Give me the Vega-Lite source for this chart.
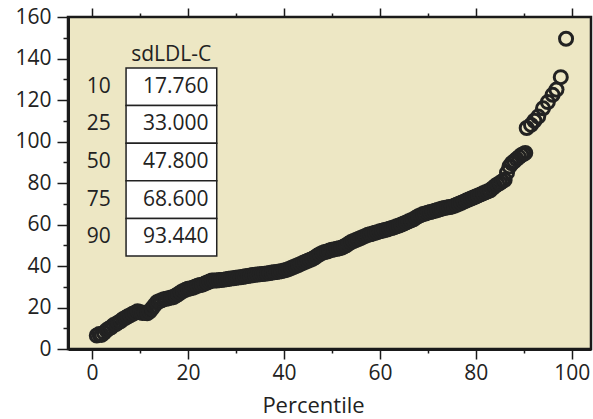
{
  "$schema": "https://vega.github.io/schema/vega-lite/v6.json",
  "width": 523,
  "height": 332,
  "autosize": "none",
  "padding": {"left": 68, "top": 17, "right": 2, "bottom": 70},
  "background": "white",
  "config": {
    "view": {"fill": "#EDE7C4", "stroke": "#1a1a1a", "strokeWidth": 2.5},
    "font": "Open Sans",
    "axis": {
      "domainColor": "#1a1a1a",
      "domainWidth": 3,
      "tickColor": "#1a1a1a",
      "tickWidth": 1.5,
      "grid": false,
      "labelFont": "Open Sans",
      "labelFontSize": 21,
      "labelColor": "#222",
      "titleFont": "Open Sans",
      "titleFontSize": 22,
      "titleFontWeight": "normal",
      "titleColor": "#222"
    }
  },
  "datasets": {
    "curve": [
      {"p": 1, "v": 6.5}, {"p": 1.5, "v": 7.2}, {"p": 2, "v": 6.8}, {"p": 2.5, "v": 7.8}, {"p": 3, "v": 9},
      {"p": 3.5, "v": 9.8}, {"p": 4, "v": 10.5}, {"p": 4.5, "v": 11.5}, {"p": 5, "v": 12}, {"p": 5.5, "v": 12.8},
      {"p": 6, "v": 13.5}, {"p": 6.5, "v": 14.5}, {"p": 7, "v": 15}, {"p": 7.5, "v": 15.8}, {"p": 8, "v": 16.3},
      {"p": 8.5, "v": 17}, {"p": 9, "v": 17.5}, {"p": 9.5, "v": 18.2}, {"p": 10, "v": 17.8}, {"p": 10.5, "v": 17.3},
      {"p": 11, "v": 17.5}, {"p": 11.5, "v": 17.2}, {"p": 12, "v": 18}, {"p": 12.5, "v": 19.5}, {"p": 13, "v": 21},
      {"p": 13.5, "v": 22.5}, {"p": 14, "v": 23}, {"p": 14.5, "v": 23.5}, {"p": 15, "v": 24}, {"p": 15.5, "v": 24.2},
      {"p": 16, "v": 24.5}, {"p": 16.5, "v": 24.8}, {"p": 17, "v": 25}, {"p": 17.5, "v": 25.8}, {"p": 18, "v": 26.5},
      {"p": 18.5, "v": 27.3}, {"p": 19, "v": 28}, {"p": 19.5, "v": 28.5}, {"p": 20, "v": 29}, {"p": 20.5, "v": 29.2},
      {"p": 21, "v": 29.5}, {"p": 21.5, "v": 30}, {"p": 22, "v": 30.5}, {"p": 22.5, "v": 30.8}, {"p": 23, "v": 31},
      {"p": 23.5, "v": 31.5}, {"p": 24, "v": 32}, {"p": 24.5, "v": 32.5}, {"p": 25, "v": 33}, {"p": 25.5, "v": 33},
      {"p": 26, "v": 33}, {"p": 26.5, "v": 33.2}, {"p": 27, "v": 33.3}, {"p": 27.5, "v": 33.4}, {"p": 28, "v": 33.6},
      {"p": 28.5, "v": 33.8}, {"p": 29, "v": 34}, {"p": 29.5, "v": 34.1}, {"p": 30, "v": 34.3}, {"p": 30.5, "v": 34.5},
      {"p": 31, "v": 34.6}, {"p": 31.5, "v": 34.8}, {"p": 32, "v": 35}, {"p": 32.5, "v": 35.2}, {"p": 33, "v": 35.4},
      {"p": 33.5, "v": 35.6}, {"p": 34, "v": 35.8}, {"p": 34.5, "v": 35.9}, {"p": 35, "v": 36}, {"p": 35.5, "v": 36.1},
      {"p": 36, "v": 36.3}, {"p": 36.5, "v": 36.4}, {"p": 37, "v": 36.6}, {"p": 37.5, "v": 36.8}, {"p": 38, "v": 37},
      {"p": 38.5, "v": 37.1}, {"p": 39, "v": 37.3}, {"p": 39.5, "v": 37.5}, {"p": 40, "v": 37.8}, {"p": 40.5, "v": 38.1},
      {"p": 41, "v": 38.5}, {"p": 41.5, "v": 39}, {"p": 42, "v": 39.5}, {"p": 42.5, "v": 40}, {"p": 43, "v": 40.5},
      {"p": 43.5, "v": 41}, {"p": 44, "v": 41.5}, {"p": 44.5, "v": 42}, {"p": 45, "v": 42.5}, {"p": 45.5, "v": 43},
      {"p": 46, "v": 43.5}, {"p": 46.5, "v": 44.2}, {"p": 47, "v": 45}, {"p": 47.5, "v": 45.7}, {"p": 48, "v": 46.3},
      {"p": 48.5, "v": 46.7}, {"p": 49, "v": 47}, {"p": 49.5, "v": 47.4}, {"p": 50, "v": 47.8}, {"p": 50.5, "v": 48},
      {"p": 51, "v": 48.3}, {"p": 51.5, "v": 48.5}, {"p": 52, "v": 48.8}, {"p": 52.5, "v": 49.4}, {"p": 53, "v": 50},
      {"p": 53.5, "v": 50.8}, {"p": 54, "v": 51.5}, {"p": 54.5, "v": 52}, {"p": 55, "v": 52.5}, {"p": 55.5, "v": 53},
      {"p": 56, "v": 53.5}, {"p": 56.5, "v": 54}, {"p": 57, "v": 54.5}, {"p": 57.5, "v": 55}, {"p": 58, "v": 55.3},
      {"p": 58.5, "v": 55.6}, {"p": 59, "v": 56}, {"p": 59.5, "v": 56.3}, {"p": 60, "v": 56.7}, {"p": 60.5, "v": 57},
      {"p": 61, "v": 57.3}, {"p": 61.5, "v": 57.6}, {"p": 62, "v": 58}, {"p": 62.5, "v": 58.3}, {"p": 63, "v": 58.7},
      {"p": 63.5, "v": 59.1}, {"p": 64, "v": 59.5}, {"p": 64.5, "v": 60}, {"p": 65, "v": 60.5}, {"p": 65.5, "v": 61},
      {"p": 66, "v": 61.5}, {"p": 66.5, "v": 62}, {"p": 67, "v": 62.5}, {"p": 67.5, "v": 63.3}, {"p": 68, "v": 64},
      {"p": 68.5, "v": 64.5}, {"p": 69, "v": 65}, {"p": 69.5, "v": 65.3}, {"p": 70, "v": 65.7}, {"p": 70.5, "v": 66},
      {"p": 71, "v": 66.3}, {"p": 71.5, "v": 66.6}, {"p": 72, "v": 67}, {"p": 72.5, "v": 67.3}, {"p": 73, "v": 67.7},
      {"p": 73.5, "v": 68}, {"p": 74, "v": 68.2}, {"p": 74.5, "v": 68.4}, {"p": 75, "v": 68.6}, {"p": 75.5, "v": 69},
      {"p": 76, "v": 69.5}, {"p": 76.5, "v": 70}, {"p": 77, "v": 70.5}, {"p": 77.5, "v": 71}, {"p": 78, "v": 71.5},
      {"p": 78.5, "v": 72}, {"p": 79, "v": 72.5}, {"p": 79.5, "v": 73}, {"p": 80, "v": 73.5}, {"p": 80.5, "v": 74},
      {"p": 81, "v": 74.5}, {"p": 81.5, "v": 75}, {"p": 82, "v": 75.5}, {"p": 82.5, "v": 76}, {"p": 83, "v": 76.5},
      {"p": 83.5, "v": 77.5}, {"p": 84, "v": 78.5}, {"p": 84.5, "v": 79.3}, {"p": 85, "v": 80}, {"p": 85.5, "v": 80.8},
      {"p": 86, "v": 81.5}, {"p": 86.5, "v": 85}, {"p": 87, "v": 88}, {"p": 87.5, "v": 89.5}, {"p": 88, "v": 90.5},
      {"p": 88.5, "v": 91.5}, {"p": 89, "v": 92.5}, {"p": 89.5, "v": 93.5}, {"p": 90, "v": 94}, {"p": 90.3, "v": 94.5},
      {"p": 90.6, "v": 106.5}, {"p": 91.5, "v": 108}, {"p": 92.2, "v": 110}, {"p": 93, "v": 112}, {"p": 94, "v": 116},
      {"p": 95, "v": 119}, {"p": 96, "v": 122.5}, {"p": 96.8, "v": 125}, {"p": 97.7, "v": 131}, {"p": 98.8, "v": 149.5}
    ],
    "table": [
      {"pct": "10", "val": "17.760"},
      {"pct": "25", "val": "33.000"},
      {"pct": "50", "val": "47.800"},
      {"pct": "75", "val": "68.600"},
      {"pct": "90", "val": "93.440"}
    ]
  },
  "resolve": {
    "scale": {"y": "independent"},
    "axis": {"x": "independent", "y": "independent"}
  },
  "layer": [
    {
      "data": {"name": "curve"},
      "mark": {"type": "point", "shape": "circle", "filled": false, "stroke": "#222", "strokeWidth": 3, "size": 170, "opacity": 1},
      "encoding": {
        "x": {
          "field": "p", "type": "quantitative",
          "scale": {"domain": [-5, 104], "nice": false, "zero": false},
          "axis": {
            "orient": "bottom",
            "values": [0, 10, 20, 30, 40, 50, 60, 70, 80, 90, 100],
            "labelExpr": "datum.value % 20 === 0 ? datum.label : ''",
            "tickSize": {"condition": {"test": "datum.value % 20 === 0", "value": 10}, "value": 4},
            "labelPadding": 3,
            "title": "Percentile",
            "titleX": 245,
            "titleBaseline": "bottom",
            "titleY": 68
          }
        },
        "y": {
          "field": "v", "type": "quantitative",
          "scale": {"domain": [0, 160], "nice": false, "zero": true},
          "axis": {
            "values": [0, 10, 20, 30, 40, 50, 60, 70, 80, 90, 100, 110, 120, 130, 140, 150, 160],
            "labelExpr": "datum.value % 20 === 0 ? datum.label : ''",
            "tickSize": {"condition": {"test": "datum.value % 20 === 0", "value": 11}, "value": 5},
            "labelPadding": 6,
            "title": null
          }
        }
      }
    },
    {
      "data": {"name": "table"},
      "mark": {"type": "rect", "fill": "white", "stroke": "#222", "strokeWidth": 1.5},
      "encoding": {
        "x": {"datum": 7.1, "type": "quantitative", "axis": null},
        "x2": {"datum": 26.0},
        "y": {"field": "pct", "type": "ordinal", "axis": null,
              "scale": {"type": "band", "domain": ["10", "25", "50", "75", "90"], "range": [51, 239], "paddingInner": 0, "paddingOuter": 0}}
      }
    },
    {
      "data": {"name": "table"},
      "mark": {"type": "text", "align": "right", "baseline": "middle", "fontSize": 21, "font": "Open Sans", "color": "#222"},
      "encoding": {
        "x": {"datum": 3.9, "type": "quantitative", "axis": null},
        "y": {"field": "pct", "type": "ordinal", "axis": null,
              "scale": {"type": "band", "domain": ["10", "25", "50", "75", "90"], "range": [51, 239], "paddingInner": 0, "paddingOuter": 0}},
        "text": {"field": "pct"}
      }
    },
    {
      "data": {"name": "table"},
      "mark": {"type": "text", "align": "right", "baseline": "middle", "fontSize": 21, "font": "Open Sans", "color": "#222"},
      "encoding": {
        "x": {"datum": 24.3, "type": "quantitative", "axis": null},
        "y": {"field": "pct", "type": "ordinal", "axis": null,
              "scale": {"type": "band", "domain": ["10", "25", "50", "75", "90"], "range": [51, 239], "paddingInner": 0, "paddingOuter": 0}},
        "text": {"field": "val"}
      }
    },
    {
      "data": {"values": [{"label": "sdLDL-C"}]},
      "mark": {"type": "text", "align": "center", "baseline": "middle", "fontSize": 21, "font": "Open Sans", "color": "#222"},
      "encoding": {
        "x": {
          "datum": 16.5, "type": "quantitative",
          "axis": {
            "orient": "top",
            "values": [0, 10, 20, 30, 40, 50, 60, 70, 80, 90, 100],
            "labels": false,
            "domain": false,
            "tickSize": {"condition": {"test": "datum.value % 20 === 0", "value": 9}, "value": 4},
            "title": null
          }
        },
        "y": {"datum": 141.7, "type": "quantitative", "axis": null, "scale": {"domain": [0, 160], "nice": false}},
        "text": {"field": "label"}
      }
    }
  ]
}
